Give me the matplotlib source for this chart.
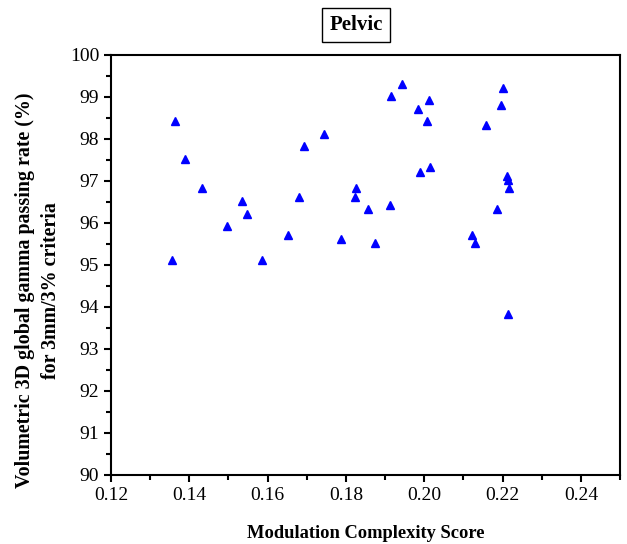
import matplotlib
matplotlib.use("Agg")
import matplotlib.pyplot as plt
from matplotlib.ticker import MultipleLocator

plt.rcParams['font.family'] = ['Liberation Serif', 'DejaVu Serif']

# modulation complexity score vs gamma passing rate (pelvic)
mcs = [0.1363, 0.1388, 0.1433, 0.1535, 0.1547, 0.1496, 0.1679, 0.1693,
       0.1744, 0.1653, 0.1788, 0.1826, 0.1822, 0.1856, 0.1874, 0.1913,
       0.1914, 0.1943, 0.1984, 0.2013, 0.2008, 0.1990, 0.2014, 0.2121,
       0.2130, 0.2157, 0.2185, 0.2196, 0.2200, 0.2211, 0.2213, 0.2217,
       0.1355, 0.1586, 0.2213]
gpr = [98.42, 97.52, 96.82, 96.52, 96.22, 95.92, 96.62, 97.83,
       98.12, 95.72, 95.62, 96.82, 96.62, 96.32, 95.52, 96.42,
       99.02, 99.32, 98.71, 98.92, 98.42, 97.21, 97.32, 95.72,
       95.52, 98.32, 96.32, 98.82, 99.22, 97.11, 97.02, 96.82,
       95.12, 95.12, 93.83]

fig = plt.figure(figsize=(6.27, 5.44), dpi=100)
ax = fig.add_axes([0.177, 0.127, 0.812, 0.772])

ax.plot(mcs, gpr, linestyle='', marker='^', color='#0000ff', markersize=5.5)

ax.set_xlim(0.12, 0.25)
ax.set_ylim(90, 100)
ax.xaxis.set_minor_locator(MultipleLocator(0.01))
ax.yaxis.set_major_locator(MultipleLocator(1))
ax.yaxis.set_minor_locator(MultipleLocator(0.5))
ax.set_xticks([0.12, 0.14, 0.16, 0.18, 0.20, 0.22, 0.24])
ax.set_xticklabels(['0.12', '0.14', '0.16', '0.18', '0.20', '0.22', '0.24'])

ax.tick_params(which='major', direction='out', length=5, width=1.5, labelsize=14)
ax.tick_params(which='minor', direction='out', length=3.5, width=1.5)
ax.tick_params(axis='y', which='both', right=False)
ax.tick_params(axis='x', which='both', top=False)
for s in ax.spines.values():
    s.set_linewidth(1.5)

ax.set_xlabel('Modulation Complexity Score', fontsize=13.3, fontweight='bold', labelpad=15)
ax.set_ylabel('Volumetric 3D global gamma passing rate (%)\nfor 3mm/3% criteria',
              fontsize=14.4, fontweight='bold', labelpad=6, linespacing=1.45)
ax.yaxis.label.set_y(0.44)

fig.text(0.568, 0.954, 'Pelvic', ha='center', va='center', fontsize=15, fontweight='bold',
         bbox=dict(boxstyle='square,pad=0.35', facecolor='white', edgecolor='black', linewidth=1))

fig.savefig('out.png', dpi=100)
